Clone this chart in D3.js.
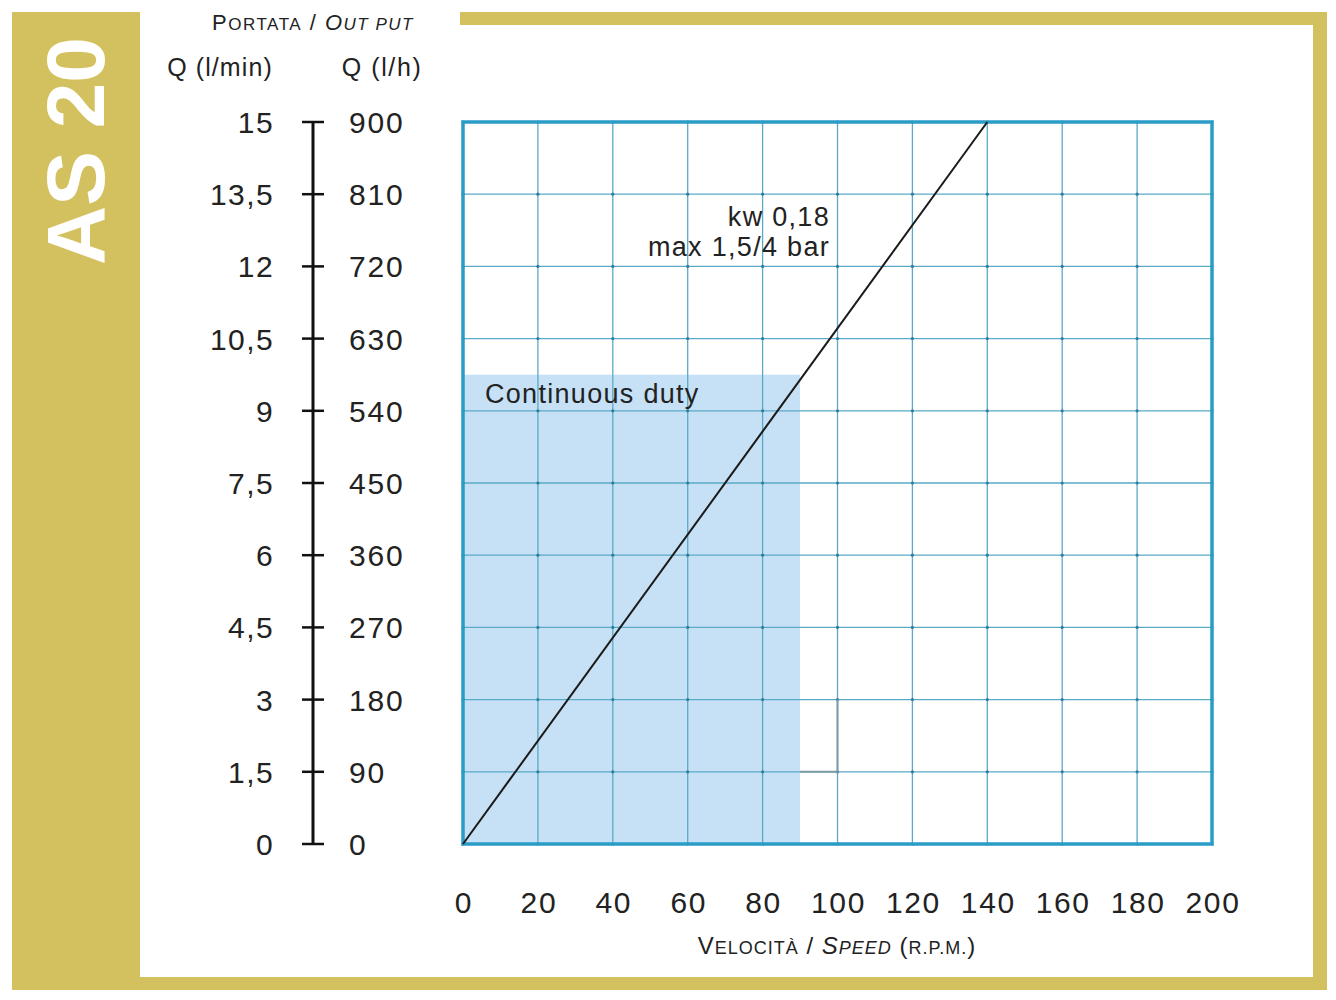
<!DOCTYPE html>
<html>
<head>
<meta charset="utf-8">
<script src="https://cdn.jsdelivr.net/npm/d3@7"></script>
<style>
  html, body { margin: 0; padding: 0; background: #fff; }
  svg { display: block; font-family: "Liberation Sans", Arial, sans-serif; }
</style>
</head>
<body>
<div id="chart"></div>
<script>
// AS 20 pump: output vs speed
const speedTicks = [0, 20, 40, 60, 80, 100, 120, 140, 160, 180, 200];
const flowTicksLpm = [0, 1.5, 3, 4.5, 6, 7.5, 9, 10.5, 12, 13.5, 15];
const flowLabelsLpm = ["0", "1,5", "3", "4,5", "6", "7,5", "9", "10,5", "12", "13,5", "15"];
const flowLabelsLph = ["0", "90", "180", "270", "360", "450", "540", "630", "720", "810", "900"];
const curveSpeed = [0, 140];
const curveFlow = [0, 15];
const dutySpeed = [0, 90];
const dutyFlow = [0, 9.75];

const W = 1336, H = 1000;
const gold = "#d3c05f", gridC = "#5aaac6", frameC = "#2a9cc6", ink = "#222";

const svg = d3.select("#chart").append("svg").attr("width", W).attr("height", H);

// gold frame
svg.append("rect").attr("x", 12).attr("y", 12).attr("width", 128).attr("height", 978).attr("fill", gold);
svg.append("rect").attr("x", 460).attr("y", 12).attr("width", 867).attr("height", 13).attr("fill", gold);
svg.append("rect").attr("x", 1313).attr("y", 12).attr("width", 14).attr("height", 978).attr("fill", gold);
svg.append("rect").attr("x", 12).attr("y", 977).attr("width", 1315).attr("height", 13).attr("fill", gold);

svg.append("text")
  .attr("transform", "translate(104,151) rotate(-90)")
  .attr("text-anchor", "middle").attr("fill", "#fff")
  .attr("font-size", 82).attr("font-weight", "bold")
  .text("AS 20");

const x = d3.scaleLinear().domain([0, 200]).range([463, 1212]);
const y = d3.scaleLinear().domain([0, 15]).range([844, 122]);

// continuous duty area
svg.append("rect")
  .attr("x", x(dutySpeed[0])).attr("y", y(dutyFlow[1]))
  .attr("width", x(dutySpeed[1]) - x(dutySpeed[0]))
  .attr("height", y(dutyFlow[0]) - y(dutyFlow[1]))
  .attr("fill", "#c6e1f5");

// grid
const grid = svg.append("g");
grid.selectAll(".vx").data(speedTicks.slice(1, -1)).join("line")
  .attr("x1", d => x(d)).attr("x2", d => x(d)).attr("y1", y(15)).attr("y2", y(0))
  .attr("stroke", gridC).attr("stroke-width", 1.3);
grid.selectAll(".hy").data(flowTicksLpm.slice(1, -1)).join("line")
  .attr("x1", x(0)).attr("x2", x(200)).attr("y1", d => y(d)).attr("y2", d => y(d))
  .attr("stroke", gridC).attr("stroke-width", 1.3);
const dots = [];
speedTicks.forEach(s => flowTicksLpm.forEach(f => dots.push([s, f])));
grid.selectAll("circle").data(dots).join("circle")
  .attr("cx", d => x(d[0])).attr("cy", d => y(d[1])).attr("r", 1.6)
  .attr("fill", "#2f7f9c");

// faint scan remnant near 100 rpm
svg.append("path")
  .attr("d", `M${x(90)},${y(1.5)}H${x(100)}V${y(3)}`)
  .attr("fill", "none").attr("stroke", "#7f9ba6").attr("stroke-width", 2);

// plot frame
svg.append("rect")
  .attr("x", x(0)).attr("y", y(15)).attr("width", x(200) - x(0)).attr("height", y(0) - y(15))
  .attr("fill", "none").attr("stroke", frameC).attr("stroke-width", 3.5);

// curve
svg.append("path")
  .datum(curveSpeed.map((s, i) => [s, curveFlow[i]]))
  .attr("d", d3.line().x(d => x(d[0])).y(d => y(d[1])))
  .attr("fill", "none").attr("stroke", "#1a1a1a").attr("stroke-width", 2);

svg.append("text").attr("x", 830).attr("y", 226).attr("text-anchor", "end")
  .attr("font-size", 27).attr("letter-spacing", 1.3).attr("fill", ink).text("kw 0,18");
svg.append("text").attr("x", 830).attr("y", 256).attr("text-anchor", "end")
  .attr("font-size", 27).attr("letter-spacing", 1.3).attr("fill", ink).text("max 1,5/4 bar");
svg.append("text").attr("x", 485).attr("y", 403)
  .attr("font-size", 27).attr("letter-spacing", 1.3).attr("fill", ink).text("Continuous duty");

// left double axis
const axX = 313;
svg.append("line").attr("x1", axX).attr("x2", axX).attr("y1", y(15)).attr("y2", y(0))
  .attr("stroke", "#111").attr("stroke-width", 3);
svg.selectAll(".tk").data(flowTicksLpm).join("line")
  .attr("x1", axX - 11).attr("x2", axX + 11).attr("y1", d => y(d)).attr("y2", d => y(d))
  .attr("stroke", "#111").attr("stroke-width", 2.5);
svg.selectAll(".lpm").data(flowTicksLpm).join("text")
  .attr("x", 274).attr("y", d => y(d) + 11).attr("text-anchor", "end")
  .attr("font-size", 30).attr("letter-spacing", 1.4).attr("fill", ink)
  .text((d, i) => flowLabelsLpm[i]);
svg.selectAll(".lph").data(flowTicksLpm).join("text")
  .attr("x", 349).attr("y", d => y(d) + 11)
  .attr("font-size", 30).attr("letter-spacing", 1.8).attr("fill", ink)
  .text((d, i) => flowLabelsLph[i]);

// x tick labels
svg.selectAll(".sx").data(speedTicks).join("text")
  .attr("x", d => x(d) + 1).attr("y", 913).attr("text-anchor", "middle")
  .attr("font-size", 30).attr("letter-spacing", 1.6).attr("fill", ink).text(d => d);

// headers with small caps
function smallCaps(t, parts) {
  parts.forEach(p => {
    t.append("tspan").attr("font-size", p[1]).attr("font-style", p[2] || null).text(p[0]);
  });
}
const hdr = svg.append("text").attr("x", 313).attr("y", 30).attr("text-anchor", "middle")
  .attr("letter-spacing", 1.5).attr("fill", ink);
smallCaps(hdr, [["P", 22], ["ORTATA", 17], [" / ", 22], ["O", 22, "italic"], ["UT PUT", 17, "italic"]]);

svg.append("text").attr("x", 220).attr("y", 76).attr("text-anchor", "middle")
  .attr("font-size", 25).attr("letter-spacing", 1.1).attr("fill", ink).text("Q (l/min)");
svg.append("text").attr("x", 382).attr("y", 76).attr("text-anchor", "middle")
  .attr("font-size", 25).attr("letter-spacing", 1.6).attr("fill", ink).text("Q (l/h)");

const xt = svg.append("text").attr("x", 837).attr("y", 954).attr("text-anchor", "middle")
  .attr("letter-spacing", 1.0).attr("fill", ink);
smallCaps(xt, [["V", 24], ["ELOCITÀ", 18], [" / ", 24], ["S", 24, "italic"], ["PEED", 18, "italic"], [" (", 24], ["R.P.M.", 18], [")", 24]]);
</script>
</body>
</html>
